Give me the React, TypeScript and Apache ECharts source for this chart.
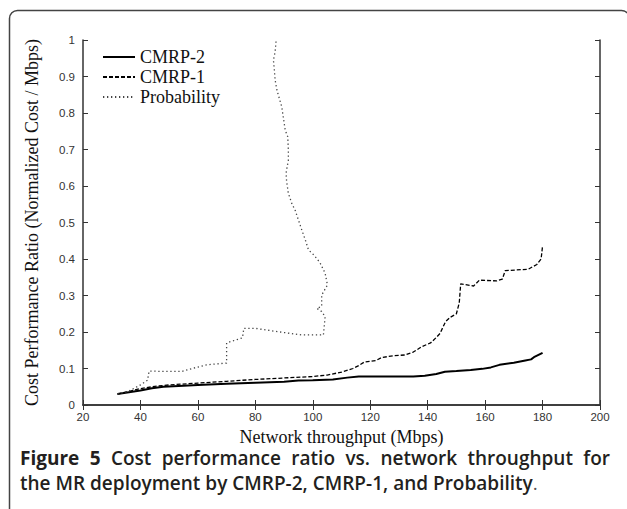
import React, { useEffect, useRef } from "react";
import * as echarts from "echarts";

const seriesNames = ["CMRP-2", "CMRP-1", "Probability"];

const xTicks = { min: 20, max: 200, interval: 20 };
const yTicks = { min: 0, max: 1, interval: 0.1 };

const cmrp2: [number, number][] = [
  [32, 0.03], [36, 0.035], [40, 0.04], [44, 0.046], [48, 0.05], [55, 0.053],
  [60, 0.055], [70, 0.058], [80, 0.061], [90, 0.064], [95, 0.067], [100, 0.068],
  [107, 0.07], [112, 0.075], [116, 0.078], [125, 0.078], [135, 0.078], [139, 0.08],
  [143, 0.085], [146, 0.091], [150, 0.093], [155, 0.096], [159, 0.099], [162, 0.103],
  [165, 0.11], [170, 0.116], [174, 0.122], [176, 0.125], [177, 0.131], [180, 0.143],
];

const cmrp1: [number, number][] = [
  [32, 0.03], [36, 0.037], [40, 0.045], [45, 0.051], [50, 0.055], [60, 0.06],
  [70, 0.065], [80, 0.07], [90, 0.074], [100, 0.078], [105, 0.082], [110, 0.09],
  [114, 0.1], [116, 0.108], [118, 0.118], [122, 0.122], [124, 0.13], [128, 0.135],
  [132, 0.137], [135, 0.145], [138, 0.16], [141, 0.17], [143, 0.185], [144.3, 0.196],
  [146.2, 0.228], [147.8, 0.24], [150, 0.25], [151, 0.28], [151.5, 0.332], [156, 0.326],
  [158, 0.342], [164, 0.34], [166, 0.345], [167, 0.368], [175, 0.372], [178, 0.385],
  [179.5, 0.4], [180, 0.436],
];

const probability: [number, number][] = [
  [32, 0.03], [36, 0.038], [40, 0.055], [42.5, 0.068], [43, 0.093], [48, 0.092],
  [54.5, 0.092], [58, 0.1], [63, 0.11], [70, 0.115], [70, 0.17], [75.5, 0.184],
  [76, 0.21], [80, 0.21], [88.6, 0.2], [96, 0.192], [103.7, 0.192], [104.3, 0.242],
  [103.1, 0.256], [101.4, 0.265], [103.1, 0.27], [103.1, 0.301], [105.1, 0.329],
  [104.3, 0.361], [102.5, 0.39], [100.5, 0.41], [98.5, 0.425], [97.5, 0.45],
  [96.2, 0.479], [95.3, 0.5], [93.8, 0.535], [92.8, 0.55], [91.5, 0.58], [90.9, 0.612],
  [90.7, 0.635], [91.5, 0.671], [91.5, 0.7], [91.3, 0.735], [90.4, 0.753], [89.2, 0.817],
  [87.5, 0.863], [86.9, 0.89], [86.6, 0.92], [86.3, 0.945], [86.9, 0.968], [87.2, 0.995],
  [87.2, 1.0],
];

const xAxisTitle = "Network throughput (Mbps)";
const yAxisTitle = "Cost Performance Ratio (Normalized Cost / Mbps)";

const captionLine1: [string, number][] = [
  ["Figure", 700], ["5", 700], ["Cost", 600], ["performance", 600], ["ratio", 600],
  ["vs.", 600], ["network", 600], ["throughput", 600], ["for", 600],
];
const captionLine2Title = "the MR deployment by CMRP-2, CMRP-1, and Probability";
const captionLine2End = ".";

const CAP_FONT = '"Open Sans"';
const CAP_SIZE = 19;
const CAP_COLOR = "#231f20";
const SERIF = "Liberation Serif";

function buildCaption(): any[] {
  const canvas = document.createElement("canvas");
  const ctx = canvas.getContext("2d")!;
  const widths = captionLine1.map(([w, weight]) => {
    ctx.font = `${weight} ${CAP_SIZE}px ${CAP_FONT}`;
    return ctx.measureText(w).width;
  });
  const left = 20;
  const right = 610;
  const total = widths.reduce((a, b) => a + b, 0);
  const gap = Math.max(4, (right - left - total) / (captionLine1.length - 1));
  const els: any[] = [];
  let x = left;
  captionLine1.forEach(([w, weight], i) => {
    els.push({
      type: "text",
      x,
      y: 458,
      style: {
        text: w,
        fontFamily: CAP_FONT,
        fontSize: CAP_SIZE,
        fontWeight: weight,
        fill: CAP_COLOR,
        verticalAlign: "middle",
        align: "left",
      },
    });
    x += widths[i] + gap;
  });
  els.push({
    type: "text",
    x: left,
    y: 483,
    style: {
      text: `{t|${captionLine2Title}}{p|${captionLine2End}}`,
      verticalAlign: "middle",
      align: "left",
      rich: {
        t: { fontFamily: CAP_FONT, fontSize: CAP_SIZE, fontWeight: 600, fill: CAP_COLOR },
        p: { fontFamily: CAP_FONT, fontSize: CAP_SIZE, fontWeight: 400, fill: "#555" },
      },
    },
  });
  return els;
}

const axisLineStyle = { color: "#333", width: 1.5 };
const tickLabel = { fontFamily: "Liberation Sans", fontSize: 11.5, color: "#333" };

export default function App() {
  const ref = useRef<HTMLDivElement>(null);
  useEffect(() => {
    if (!ref.current) return;
    const chart = echarts.init(ref.current, null, { renderer: "svg" });
    const option: any = {
      animation: false,
      backgroundColor: "#fff",
      grid: { left: 83, right: 27, top: 40, bottom: 104, containLabel: false },
      legend: {
        orient: "vertical",
        left: 97,
        top: 43,
        itemWidth: 32,
        itemHeight: 14,
        itemGap: 2,
        data: seriesNames,
        itemStyle: { opacity: 0, borderWidth: 0 },
        textStyle: { fontFamily: SERIF, fontSize: 18, color: "#111", lineHeight: 15 },
      },
      xAxis: [
        {
          type: "value",
          position: "bottom",
          min: xTicks.min,
          max: xTicks.max,
          interval: xTicks.interval,
          name: xAxisTitle,
          nameLocation: "middle",
          nameGap: 17,
          nameTextStyle: { fontFamily: SERIF, fontSize: 18, color: "#111" },
          axisLine: { show: true, lineStyle: axisLineStyle },
          axisTick: { show: true, inside: true, length: 5, lineStyle: { color: "#333", width: 1 } },
          axisLabel: { ...tickLabel, margin: 6 },
          splitLine: { show: false },
        },
        {
          type: "value",
          position: "top",
          min: xTicks.min,
          max: xTicks.max,
          interval: xTicks.interval,
          axisLine: { show: true, lineStyle: axisLineStyle },
          axisTick: { show: true, inside: true, length: 5, lineStyle: { color: "#333", width: 1 } },
          axisLabel: { show: false },
          splitLine: { show: false },
        },
      ],
      yAxis: [
        {
          type: "value",
          position: "left",
          min: yTicks.min,
          max: yTicks.max,
          interval: yTicks.interval,
          name: yAxisTitle,
          nameLocation: "middle",
          nameGap: 42,
          nameTextStyle: { fontFamily: SERIF, fontSize: 18, color: "#111" },
          axisLine: { show: true, lineStyle: axisLineStyle },
          axisTick: { show: true, inside: true, length: 5, lineStyle: { color: "#333", width: 1 } },
          axisLabel: { ...tickLabel, margin: 8, formatter: (v: number) => (v === 0 || v === 1 ? String(v) : v.toFixed(1)) },
          splitLine: { show: false },
        },
        {
          type: "value",
          position: "right",
          min: yTicks.min,
          max: yTicks.max,
          interval: yTicks.interval,
          axisLine: { show: true, lineStyle: axisLineStyle },
          axisTick: { show: true, inside: true, length: 5, lineStyle: { color: "#333", width: 1 } },
          axisLabel: { show: false },
          splitLine: { show: false },
        },
      ],
      series: [
        {
          name: seriesNames[0],
          type: "line",
          data: cmrp2,
          symbol: "none",
          lineStyle: { color: "#000", width: 2, type: "solid" },
          itemStyle: { color: "#000" },
        },
        {
          name: seriesNames[1],
          type: "line",
          data: cmrp1,
          symbol: "none",
          lineStyle: { color: "#000", width: 1.3, type: [4, 2] },
          itemStyle: { color: "#000" },
        },
        {
          name: seriesNames[2],
          type: "line",
          data: probability,
          symbol: "none",
          lineStyle: { color: "#444", width: 1.3, type: [1.3, 2.7] },
          itemStyle: { color: "#444" },
        },
      ],
      graphic: [
        {
          type: "rect",
          silent: true,
          shape: { x: 9.5, y: 10.5, width: 620, height: 530, r: [8, 8, 0, 0] },
          style: { fill: "none", stroke: "#444", lineWidth: 1.5 },
        },
        ...buildCaption(),
      ],
    };
    chart.setOption(option);
    return () => chart.dispose();
  }, []);
  return (
    <div
      ref={ref}
      style={{ position: "absolute", left: 0, top: 0, width: 627, height: 509 }}
    />
  );
}
